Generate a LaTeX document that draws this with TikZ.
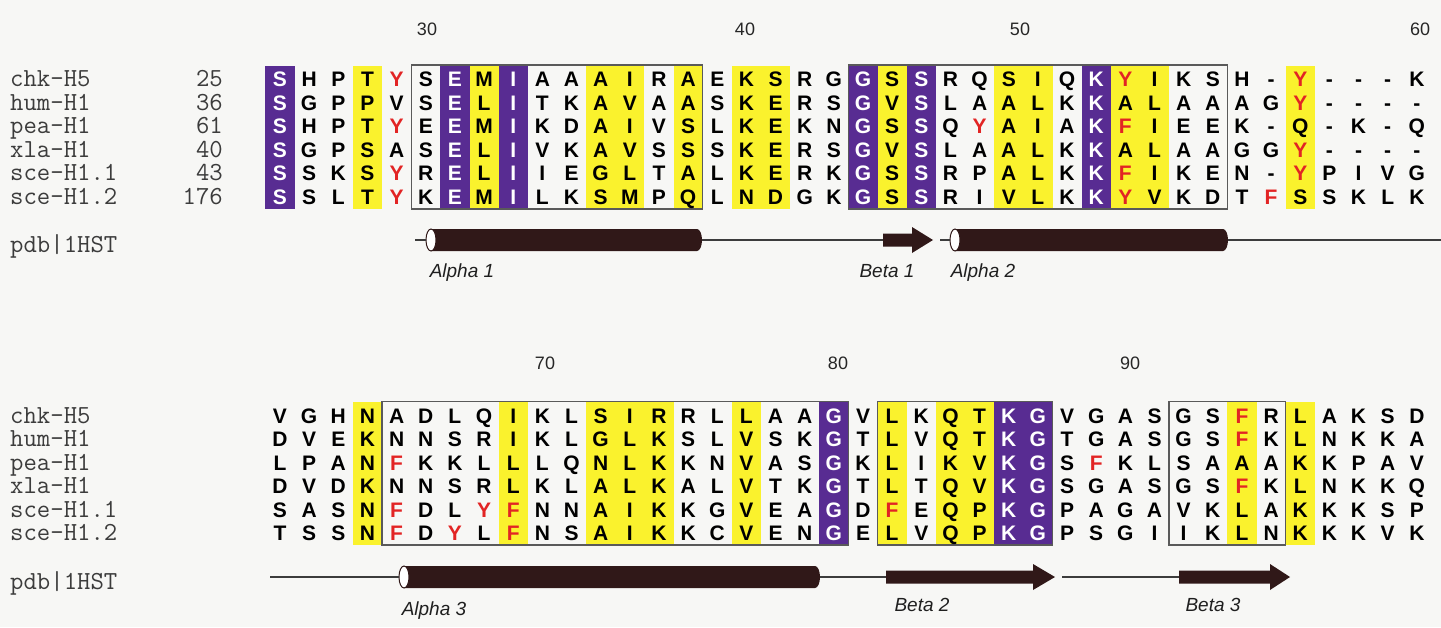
\documentclass[tikz,border=0pt]{standalone}
\usepackage{fontspec}
\setmainfont{Liberation Sans}
\definecolor{bgc}{RGB}{247,247,245}
\definecolor{purp}{RGB}{88,44,146}
\definecolor{yel}{RGB}{250,242,45}
\definecolor{resred}{RGB}{226,36,36}
\definecolor{helixc}{RGB}{48,24,24}
\definecolor{namec}{RGB}{60,60,60}
\definecolor{boxc}{RGB}{90,90,90}
\definecolor{linec}{RGB}{60,60,60}
\newcommand\rd[1]{\textcolor{resred}{#1}}
\tikzset{
  res/.style={font=\bfseries\fontsize{21}{21}\selectfont, inner sep=0pt, anchor=base},
  namef/.style={font=\ttfamily\fontsize{26}{26}\selectfont, text=namec, inner sep=0pt},
  numf/.style={font=\fontsize{18}{18}\selectfont, text=black!85, inner sep=0pt, anchor=base},
  ssl/.style={font=\itshape\fontsize{19}{19}\selectfont, text=black!88, inner sep=0pt, anchor=base},
  alnbox/.style={draw=boxc, line width=1.2pt},
  thin/.style={draw=linec, line width=1.3pt},
  helixbody/.style={fill=helixc},
  helixcap/.style={fill=white, draw=helixc, line width=1pt},
  strand/.style={fill=helixc}
}
% helix: #1 name, #2 x start (cap centre), #3 x end, #4 y
\newcommand\helix[4]{%
  \fill[helixbody] (#2,#4-11) -- (#3,#4-11) arc[start angle=-90,end angle=90,x radius=5,y radius=11] -- (#2,#4+11) -- cycle;
  \draw[helixcap] (#2,#4) ellipse[x radius=5, y radius=11];
  \coordinate (#1-l) at (#2-5,#4);
  \coordinate (#1-r) at (#3+5,#4);
}
% strand: #1 name, #2 x start, #3 x head start, #4 x tip, #5 y
\newcommand\strandarrow[5]{%
  \fill[strand] (#2,#5-6.5) -- (#3,#5-6.5) -- (#3,#5-13) -- (#4,#5) -- (#3,#5+13) -- (#3,#5+6.5) -- (#2,#5+6.5) -- cycle;
  \coordinate (#1-l) at (#2,#5);
  \coordinate (#1-r) at (#4,#5);
}
\begin{document}
\begin{tikzpicture}[x=1pt,y=-1pt]
\fill[bgc] (0,0) rectangle (1441,627);
\useasboundingbox (0,0) rectangle (1441,627);

% ================= TOP BLOCK =================
\def\purT{1,7,9,21,23,29}
\def\yelT{4,8,12,13,15,17,18,22,26,27,30,31,36}
\foreach \kk in \yelT {\fill[yel] ({280+(\kk-1)*29.15-14.6},65.5) rectangle ({280+(\kk-1)*29.15+14.6},208.5);}
\foreach \kk in \purT {\fill[purp] ({280+(\kk-1)*29.15-14.6},65.5) rectangle ({280+(\kk-1)*29.15+14.6},208.5);}
\draw[alnbox] ({280+5*29.15-14.6},65) rectangle ({280+14*29.15+14.6},209);
\draw[alnbox] ({280+20*29.15-14.6},65) rectangle ({280+32*29.15+14.6},209);

\foreach \row [count=\ri] in {
 {S,H,P,T,\rd Y,S,E,M,I,A,A,A,I,R,A,E,K,S,R,G,G,S,S,R,Q,S,I,Q,K,\rd Y,I,K,S,H,-,\rd Y,-,-,-,K},
 {S,G,P,P,V,S,E,L,I,T,K,A,V,A,A,S,K,E,R,S,G,V,S,L,A,A,L,K,K,A,L,A,A,A,G,\rd Y,-,-,-,-},
 {S,H,P,T,\rd Y,E,E,M,I,K,D,A,I,V,S,L,K,E,K,N,G,S,S,Q,\rd Y,A,I,A,K,\rd F,I,E,E,K,-,Q,-,K,-,Q},
 {S,G,P,S,A,S,E,L,I,V,K,A,V,S,S,S,K,E,R,S,G,V,S,L,A,A,L,K,K,A,L,A,A,G,G,\rd Y,-,-,-,-},
 {S,S,K,S,\rd Y,R,E,L,I,I,E,G,L,T,A,L,K,E,R,K,G,S,S,R,P,A,L,K,K,\rd F,I,K,E,N,-,\rd Y,P,I,V,G},
 {S,S,L,T,\rd Y,K,E,M,I,L,K,S,M,P,Q,L,N,D,G,K,G,S,S,R,I,V,L,K,K,\rd Y,V,K,D,T,\rd F,S,S,K,L,K}} {
  \foreach \res [count=\kk] in \row {
    \gdef\tcol{black}
    \foreach \pc in \purT {\ifnum\kk=\pc\relax\gdef\tcol{white}\fi}
    \node[res, text=\tcol] at ({280+(\kk-1)*29.15},{79+(\ri-1)*23.5+7.5}) {\res};
  }
}
\foreach \nm/\nb [count=\ri] in {chk-H5/25,hum-H1/36,pea-H1/61,xla-H1/40,sce-H1.1/43,sce-H1.2/176} {
  \node[namef, anchor=base west] (tn\ri) at (10,{79+(\ri-1)*23.5+7.5}) {\nm};
  \node[namef, anchor=base east] (tb\ri) at (223,{79+(\ri-1)*23.5+7.5}) {\nb};
}
\node[numf] (n30) at (427,35) {30};
\node[numf] (n40) at (745,35) {40};
\node[numf] (n50) at (1020,35) {50};
\node[numf] (n60) at (1420,35) {60};

% secondary structure top
\node[namef, anchor=base west] (pdbT) at (10,252) {pdb|1HST};
\coordinate (tickA1) at (415,240);
\helix{a1}{431}{697}{240}
\strandarrow{b1}{883}{912}{933}{240}
\coordinate (tickA2) at (940,240);
\helix{a2}{955}{1223}{240}
\coordinate (endT) at (1441,240);
\draw[thin] (tickA1) -- (a1-l);
\draw[thin] (a1-r) -- (b1-l);
\draw[thin] (tickA2) -- (a2-l);
\draw[thin] (a2-r) -- (endT);
\node[ssl] (la1) at (462,277) {Alpha 1};
\node[ssl] (lb1) at (887,277) {Beta 1};
\node[ssl] (la2) at (983,277) {Alpha 2};

% ================= BOTTOM BLOCK =================
\def\purB{20,26,27}
\def\yelB{4,9,12,13,14,17,22,24,25,34,36}
\foreach \kk in \yelB {\fill[yel] ({280+(\kk-1)*29.15-14.6},402) rectangle ({280+(\kk-1)*29.15+14.6},545);}
\foreach \kk in \purB {\fill[purp] ({280+(\kk-1)*29.15-14.6},402) rectangle ({280+(\kk-1)*29.15+14.6},545);}
\draw[alnbox] ({280+4*29.15-14.6},401.5) rectangle ({280+19*29.15+14.6},545);
\draw[alnbox] ({280+21*29.15-14.6},401.5) rectangle ({280+26*29.15+14.6},545);
\draw[alnbox] ({280+31*29.15-14.6},401.5) rectangle ({280+34*29.15+14.6},545);

\foreach \row [count=\ri] in {
 {V,G,H,N,A,D,L,Q,I,K,L,S,I,R,R,L,L,A,A,G,V,L,K,Q,T,K,G,V,G,A,S,G,S,\rd F,R,L,A,K,S,D},
 {D,V,E,K,N,N,S,R,I,K,L,G,L,K,S,L,V,S,K,G,T,L,V,Q,T,K,G,T,G,A,S,G,S,\rd F,K,L,N,K,K,A},
 {L,P,A,N,\rd F,K,K,L,L,L,Q,N,L,K,K,N,V,A,S,G,K,L,I,K,V,K,G,S,\rd F,K,L,S,A,A,A,K,K,P,A,V},
 {D,V,D,K,N,N,S,R,L,K,L,A,L,K,A,L,V,T,K,G,T,L,T,Q,V,K,G,S,G,A,S,G,S,\rd F,K,L,N,K,K,Q},
 {S,A,S,N,\rd F,D,L,\rd Y,\rd F,N,N,A,I,K,K,G,V,E,A,G,D,\rd F,E,Q,P,K,G,P,A,G,A,V,K,L,A,K,K,K,S,P},
 {T,S,S,N,\rd F,D,\rd Y,L,\rd F,N,S,A,I,K,K,C,V,E,N,G,E,L,V,Q,P,K,G,P,S,G,I,I,K,L,N,K,K,K,V,K}} {
  \foreach \res [count=\kk] in \row {
    \gdef\tcol{black}
    \foreach \pc in \purB {\ifnum\kk=\pc\relax\gdef\tcol{white}\fi}
    \node[res, text=\tcol] at ({280+(\kk-1)*29.15},{415.5+(\ri-1)*23.5+7.5}) {\res};
  }
}
\foreach \nm [count=\ri] in {chk-H5,hum-H1,pea-H1,xla-H1,sce-H1.1,sce-H1.2} {
  \node[namef, anchor=base west] (bn\ri) at (10,{415.5+(\ri-1)*23.5+7.5}) {\nm};
}
\node[numf] (n70) at (545,369) {70};
\node[numf] (n80) at (838,369) {80};
\node[numf] (n90) at (1130,369) {90};

% secondary structure bottom
\node[namef, anchor=base west] (pdbB) at (10,589) {pdb|1HST};
\coordinate (startB) at (270,577);
\helix{a3}{404}{815}{577}
\strandarrow{b2}{886}{1033}{1055}{577}
\coordinate (startL2) at (1062,577);
\strandarrow{b3}{1179}{1270}{1290}{577}
\draw[thin] (startB) -- (a3-l);
\draw[thin] (a3-r) -- (b2-l);
\draw[thin] (startL2) -- (b3-l);
\node[ssl] (la3) at (434,615) {Alpha 3};
\node[ssl] (lb2) at (922,611) {Beta 2};
\node[ssl] (lb3) at (1213,611) {Beta 3};
\end{tikzpicture}
\end{document}
